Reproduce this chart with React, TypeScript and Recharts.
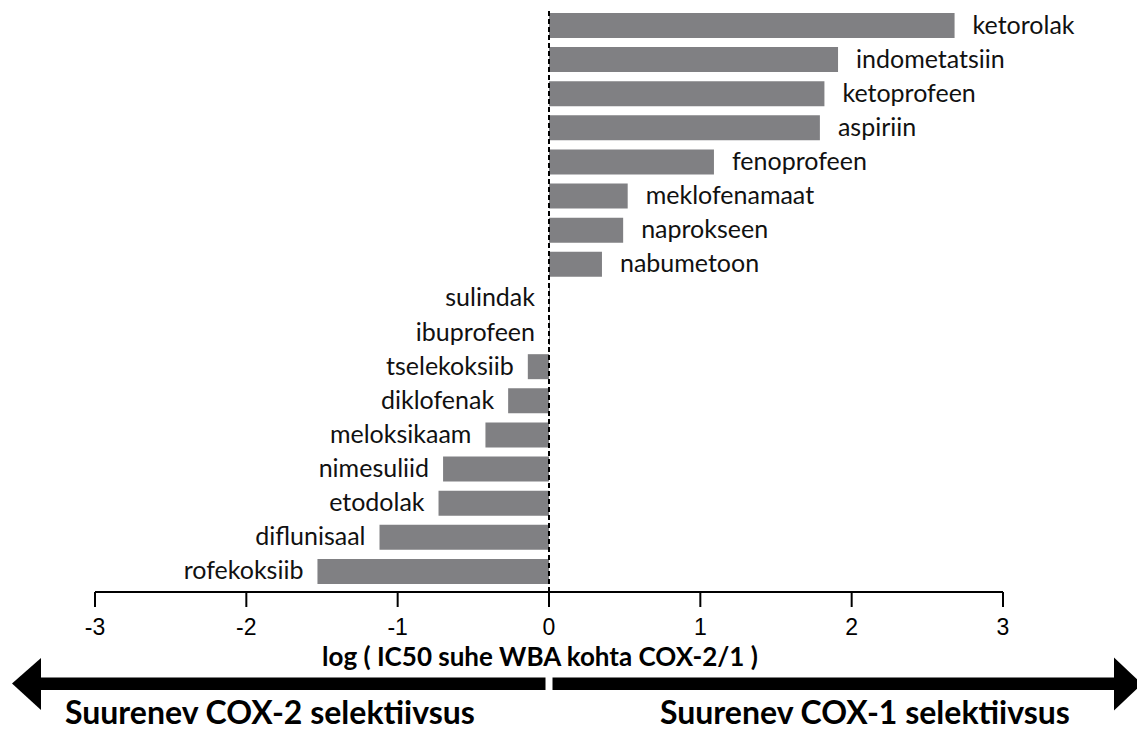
import { BarChart, Bar, XAxis, YAxis, ReferenceLine, LabelList } from 'recharts'

const drugs = [
  'ketorolak',
  'indometatsiin',
  'ketoprofeen',
  'aspiriin',
  'fenoprofeen',
  'meklofenamaat',
  'naprokseen',
  'nabumetoon',
  'sulindak',
  'ibuprofeen',
  'tselekoksiib',
  'diklofenak',
  'meloksikaam',
  'nimesuliid',
  'etodolak',
  'diflunisaal',
  'rofekoksiib',
]

const logRatio = [
  2.68, 1.91, 1.82, 1.79, 1.09, 0.52, 0.49, 0.35, 0, 0, -0.14, -0.27, -0.42, -0.7, -0.73, -1.12, -1.53,
]

const xTicks = [-3, -2, -1, 0, 1, 2, 3]

const axisTitle = 'log ( IC50 suhe WBA kohta COX-2/1 )'
const leftCaption = 'Suurenev COX-2 selektiivsus'
const rightCaption = 'Suurenev COX-1 selektiivsus'

const data = drugs.map((name, i) => ({ name, value: logRatio[i] }))

const W = 1137
const H = 731
const labelFont = 'Lato, "Open Sans", sans-serif'

// name on the right of positive bars, on the left of the others
function DrugLabel(props: any) {
  const { x, y, width, height, value } = props
  const v = logRatio[drugs.indexOf(value)]
  const left = Math.min(x, x + width)
  const right = Math.max(x, x + width)
  const cy = y + height / 2 + 8
  if (v > 0) {
    return (
      <text x={right + 18} y={cy} textAnchor="start" fontFamily={labelFont} fontSize={25} fill="#111">
        {value}
      </text>
    )
  }
  return (
    <text x={left - 14} y={cy} textAnchor="end" fontFamily={labelFont} fontSize={25} fill="#111">
      {value}
    </text>
  )
}

export default function App() {
  return (
    <div style={{ position: 'absolute', left: 0, top: 0, width: W, height: H, background: '#fff' }}>
      <BarChart
        width={W}
        height={H}
        data={data}
        layout="vertical"
        margin={{ top: 8, right: 134, bottom: 99, left: 95 }}
        barSize={25}
      >
        <XAxis
          type="number"
          domain={[-3, 3]}
          ticks={xTicks}
          allowDataOverflow
          height={40}
          axisLine={{ stroke: '#000', strokeWidth: 2 }}
          tickLine={{ stroke: '#000', strokeWidth: 2 }}
          tickSize={15}
          tickMargin={12}
          tick={{ fill: '#000', fontSize: 23, fontFamily: '"Liberation Sans", Arial, sans-serif' }}
        />
        <YAxis type="category" dataKey="name" hide padding={{ top: 0, bottom: 4 }} />
        <Bar dataKey="value" fill="#808083" minPointSize={1} isAnimationActive={false}>
          <LabelList dataKey="name" content={DrugLabel} />
        </Bar>
        <ReferenceLine x={0} stroke="#000" strokeWidth={2} strokeDasharray="5 3" />
      </BarChart>
      <svg
        width={W}
        height={H}
        style={{ position: 'absolute', left: 0, top: 0, pointerEvents: 'none' }}
      >
        <text
          x={540}
          y={666}
          textAnchor="middle"
          fontFamily={labelFont}
          fontWeight={700}
          fontSize={26}
          fill="#000"
        >
          {axisTitle}
        </text>
        <polygon points="41,658 41,710 12,683.5" fill="#000" />
        <rect x={41} y={677.5} width={504.5} height={12.5} fill="#000" />
        <rect x={552.5} y={677.5} width={562} height={12.5} fill="#000" />
        <polygon points="1114,657.5 1114,710.5 1142,684" fill="#000" />
        <text x={65} y={724} fontFamily={labelFont} fontWeight={700} fontSize={32} fill="#000">
          {leftCaption}
        </text>
        <text x={660} y={724} fontFamily={labelFont} fontWeight={700} fontSize={32} fill="#000">
          {rightCaption}
        </text>
      </svg>
    </div>
  )
}
